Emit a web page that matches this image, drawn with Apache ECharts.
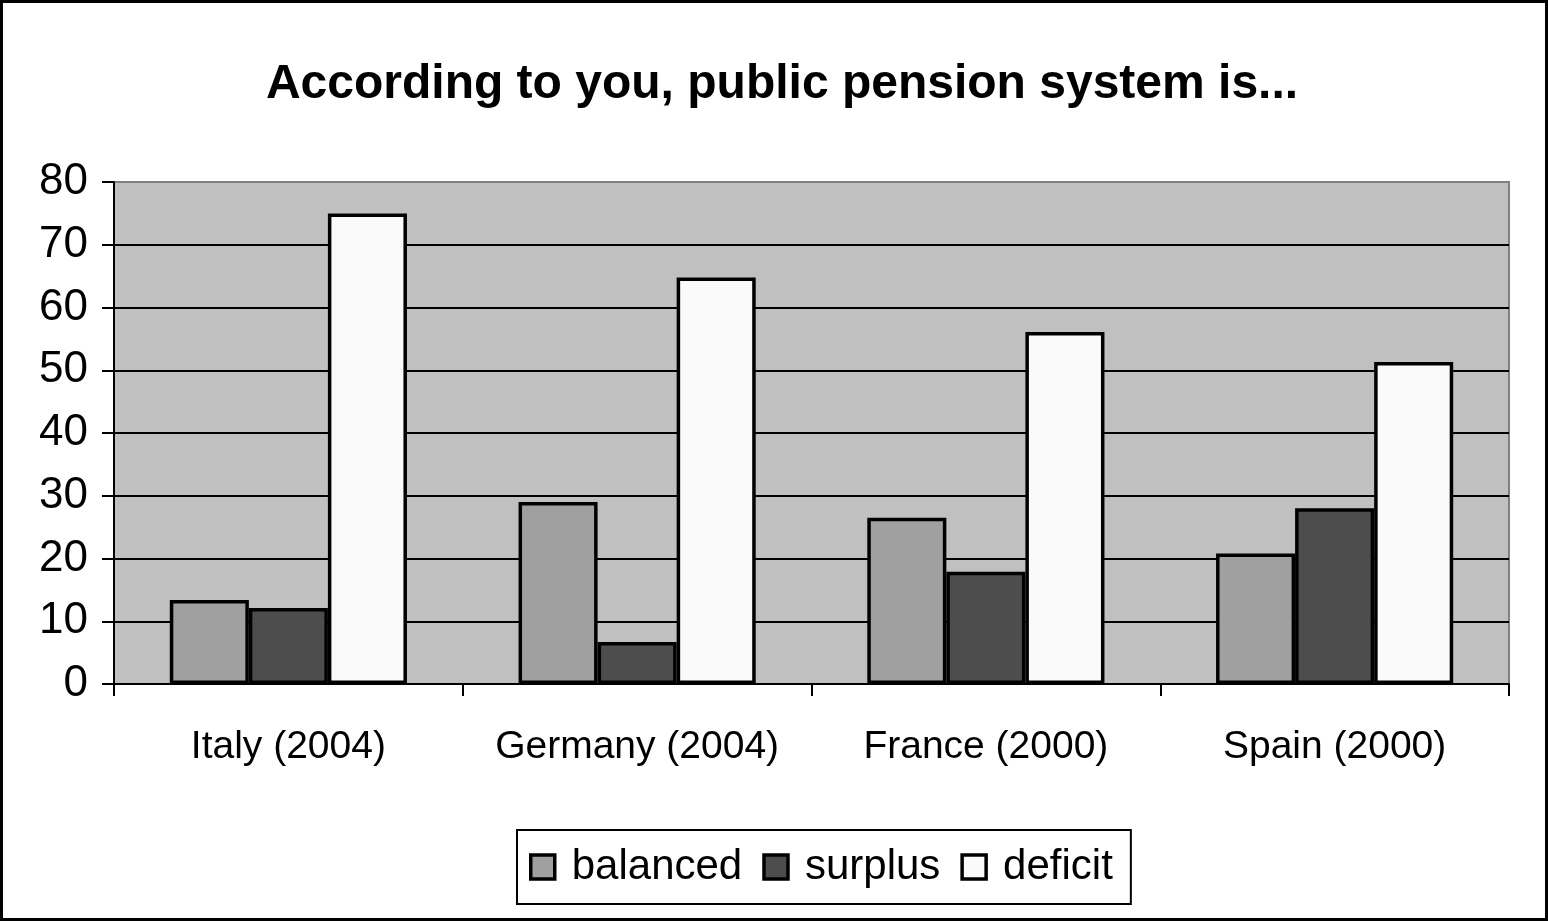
<!DOCTYPE html>
<html>
<head>
<meta charset="utf-8">
<script src="https://cdn.jsdelivr.net/npm/echarts@6/dist/echarts.min.js"></script>
<style>
html,body{margin:0;padding:0;background:#fff;}
#chart{width:1548px;height:921px;}
</style>
</head>
<body>
<div id="chart"></div>
<script>
const categories = ['Italy (2004)', 'Germany (2004)', 'France (2000)', 'Spain (2000)'];
const balanced = [13.4, 29.0, 26.5, 20.8];
const surplus = [12.1, 6.7, 17.9, 28.0];
const deficit = [75.0, 64.8, 56.1, 51.3];
const seriesNames = ['balanced', 'surplus', 'deficit'];
const titleText = 'According to you, public pension system is...';

const FONT = '"Liberation Sans", Arial, sans-serif';
const colors = ['#a0a0a0', '#4d4d4d', '#fafafa'];
const data = [balanced, surplus, deficit];

const chart = echarts.init(document.getElementById('chart'), null, {renderer: 'canvas'});
chart.setOption({
  animation: false,
  backgroundColor: '#ffffff',
  textStyle: {fontFamily: FONT},
  title: {
    text: titleText,
    left: 782,
    textAlign: 'center',
    top: 61,
    padding: 0,
    textStyle: {fontFamily: FONT, fontSize: 48, fontWeight: 'bold', color: '#000'}
  },
  graphic: [{
    type: 'rect',
    shape: {x: 1.5, y: 1.5, width: 1545, height: 918},
    style: {fill: 'none', stroke: '#000', lineWidth: 3},
    z: 100
  }],
  legend: {
    data: seriesNames,
    left: 517,
    top: 830,
    orient: 'horizontal',
    padding: [16, 18, 16, 12],
    borderColor: '#000',
    borderWidth: 2,
    itemWidth: 24,
    itemHeight: 24,
    itemGap: 20,
    icon: 'rect',
    itemStyle: {borderColor: '#000', borderWidth: 3.5},
    textStyle: {fontFamily: FONT, fontSize: 42, color: '#000', padding: [0, 0, 0, 12]}
  },
  grid: {
    left: 114, right: 39, top: 182, bottom: 237,
    show: true,
    backgroundColor: '#c0c0c0',
    borderColor: '#808080',
    borderWidth: 2,
    containLabel: false
  },
  xAxis: {
    type: 'category',
    data: categories,
    axisLine: {show: true, lineStyle: {color: '#000', width: 2}},
    axisTick: {show: true, interval: 0, length: 12, lineStyle: {color: '#000', width: 2}},
    axisLabel: {interval: 0, fontFamily: FONT, fontSize: 39, color: '#000', margin: 44}
  },
  yAxis: {
    type: 'value',
    min: 0, max: 80, interval: 10,
    axisLine: {show: true, lineStyle: {color: '#000', width: 2}},
    axisTick: {show: true, length: 12, lineStyle: {color: '#000', width: 2}},
    axisLabel: {fontFamily: FONT, fontSize: 44, color: '#000', margin: 26},
    splitLine: {show: true, showMinLine: false, showMaxLine: false, lineStyle: {color: '#000', width: 2}}
  },
  series: seriesNames.map((name, i) => ({
    name: name,
    type: 'bar',
    data: data[i],
    barGap: '0%',
    barCategoryGap: '32%',
    itemStyle: {color: colors[i], borderColor: '#000', borderWidth: 3.5}
  }))
});
</script>
</body>
</html>
